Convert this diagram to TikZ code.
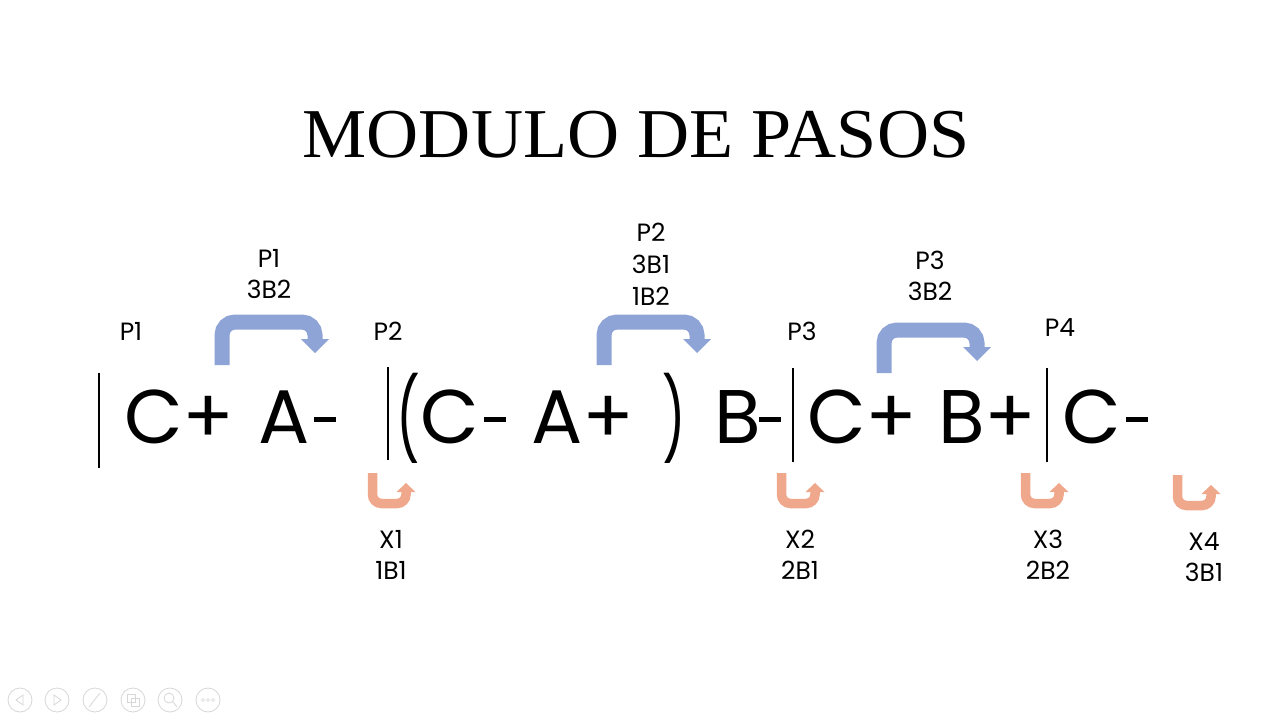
\documentclass[tikz,border=0pt]{standalone}
\usepackage{fontspec}
\setmainfont{Liberation Serif}
\newfontfamily\gothic{Poppins}
\definecolor{bluearrow}{RGB}{143,164,214}
\definecolor{orangearrow}{RGB}{240,168,140}
\definecolor{uigray}{RGB}{215,215,215}
\newcommand\hy{\rule[21pt]{22pt}{5pt}}
\newcommand\thinparen[1]{\scalebox{0.72}[1.12]{#1}}
\begin{document}
\begin{tikzpicture}[x=1pt,y=-1pt,
  title/.style={inner sep=0pt,anchor=base,font=\fontsize{70}{74}\selectfont},
  big/.style={inner sep=0pt,anchor=base west,font=\gothic\fontsize{76}{80}\selectfont},
  paren/.style={inner sep=0pt,anchor=base west,font=\gothic\fontsize{72}{76}\selectfont},
  lbl/.style={inner sep=0pt,anchor=base,font=\gothic\fontsize{25}{30}\selectfont},
  bar/.style={line width=1.6pt,black},
  bluebent/.style={line width=15pt,bluearrow,rounded corners=13pt},
  bluehead/.style={fill=bluearrow,draw=none},
  orangeu/.style={line width=9.5pt,orangearrow,rounded corners=9pt},
  orangehead/.style={fill=orangearrow,draw=none},
  uibtn/.style={draw=uigray,line width=0.8pt,circle,minimum size=24pt,inner sep=0pt}]
\useasboundingbox[fill=white] (0,0) rectangle (1280,720);

% title
\node[title] (title) at (636,157) {\scalebox{1.03}[1]{MODULO DE PASOS}};

% main sequence
\node[big] (g1c) at (124,443) {C+};
\node[big] (g1a) at (258,443) {A};
\node[big] (g1h) at (314,443) {\hy};
\node[paren] (g2o) at (396,448) {\thinparen{(}};
\node[big] (g2c) at (420,443) {C};
\node[big] (g2h) at (484,443) {\hy};
\node[big] (g2a) at (531,443) {A+};
\node[paren] (g2p) at (662,448) {\thinparen{)}};
\node[big] (g2b) at (714,443) {B};
\node[big] (g2h2) at (759,443) {\hy};
\node[big] (g3) at (807,443) {C+ B+};
\node[big] (g4c) at (1062,443) {C};
\node[big] (g4h) at (1126,443) {\hy};

% separators
\coordinate (b1t) at (99,373); \coordinate (b1b) at (99,468);
\coordinate (b2t) at (388,367); \coordinate (b2b) at (388,460);
\coordinate (b3t) at (793,368); \coordinate (b3b) at (793,462);
\coordinate (b4t) at (1047,368); \coordinate (b4b) at (1047,462);
\draw[bar] (b1t) -- (b1b);
\draw[bar] (b2t) -- (b2b);
\draw[bar] (b3t) -- (b3b);
\draw[bar] (b4t) -- (b4b);

% P labels
\node[lbl] (lp1) at (131,340) {P1};
\node[lbl] (lp2) at (388,340) {P2};
\node[lbl] (lp3) at (802,340) {P3};
\node[lbl] (lp4) at (1060,336) {P4};

% upper labels
\node[lbl] (u1a) at (269,267) {P1};
\node[lbl] (u1b) at (269,298) {3B2};
\node[lbl] (u2a) at (651,241) {P2};
\node[lbl] (u2b) at (651,273) {3B1};
\node[lbl] (u2c) at (651,305) {1B2};
\node[lbl] (u3a) at (930,269) {P3};
\node[lbl] (u3b) at (930,300) {3B2};

% lower labels
\node[lbl] (x1a) at (391,548) {X1};
\node[lbl] (x1b) at (391,579) {1B1};
\node[lbl] (x2a) at (800,548) {X2};
\node[lbl] (x2b) at (800,579) {2B1};
\node[lbl] (x3a) at (1048,548) {X3};
\node[lbl] (x3b) at (1048,579) {2B2};
\node[lbl] (x4a) at (1204,550) {X4};
\node[lbl] (x4b) at (1204,581) {3B1};

% blue bent arrows
\foreach \sx/\hx/\by/\ty in {222/315/365/322, 604/697/365/322, 884/977/373/330}{
  \draw[bluebent] (\sx,\by) -- (\sx,\ty) -- (\hx,\ty) -- (\hx,\ty+18);
  \fill[bluehead] (\hx-14,\ty+17) -- (\hx+14,\ty+17) -- (\hx,\ty+31) -- cycle;
}

% orange U-turn arrows
\foreach \lx/\ty in {368/473, 777/473, 1021/473, 1173/475}{
  \draw[orangeu] (\lx+4.5,\ty) -- (\lx+4.5,\ty+30.5) -- (\lx+38,\ty+30.5) -- (\lx+38,\ty+18);
  \fill[orangehead] (\lx+28.5,\ty+19) -- (\lx+47.5,\ty+19) -- (\lx+38,\ty+10) -- cycle;
}

% faint slideshow controls
\foreach \cx [count=\i] in {20,57,95,133,170,208}{
  \node[uibtn] (ui\i) at (\cx,700) {};
}
\draw[uigray,line width=0.8pt] (23,695) -- (16,700) -- (23,705) -- cycle;
\draw[uigray,line width=0.8pt] (54,695) -- (61,700) -- (54,705) -- cycle;
\draw[uigray,line width=0.8pt] (89,707) -- (100,693);
\draw[uigray,line width=0.8pt] (127,694) rectangle (135,702) (131,698) rectangle (139,706);
\draw[uigray,line width=0.8pt] (169,698) circle (5pt) (173,702) -- (177,707);
\draw[uigray,line width=0.6pt] (203,700) circle (1.5pt) (208,700) circle (1.5pt) (213,700) circle (1.5pt);
\end{tikzpicture}
\end{document}
